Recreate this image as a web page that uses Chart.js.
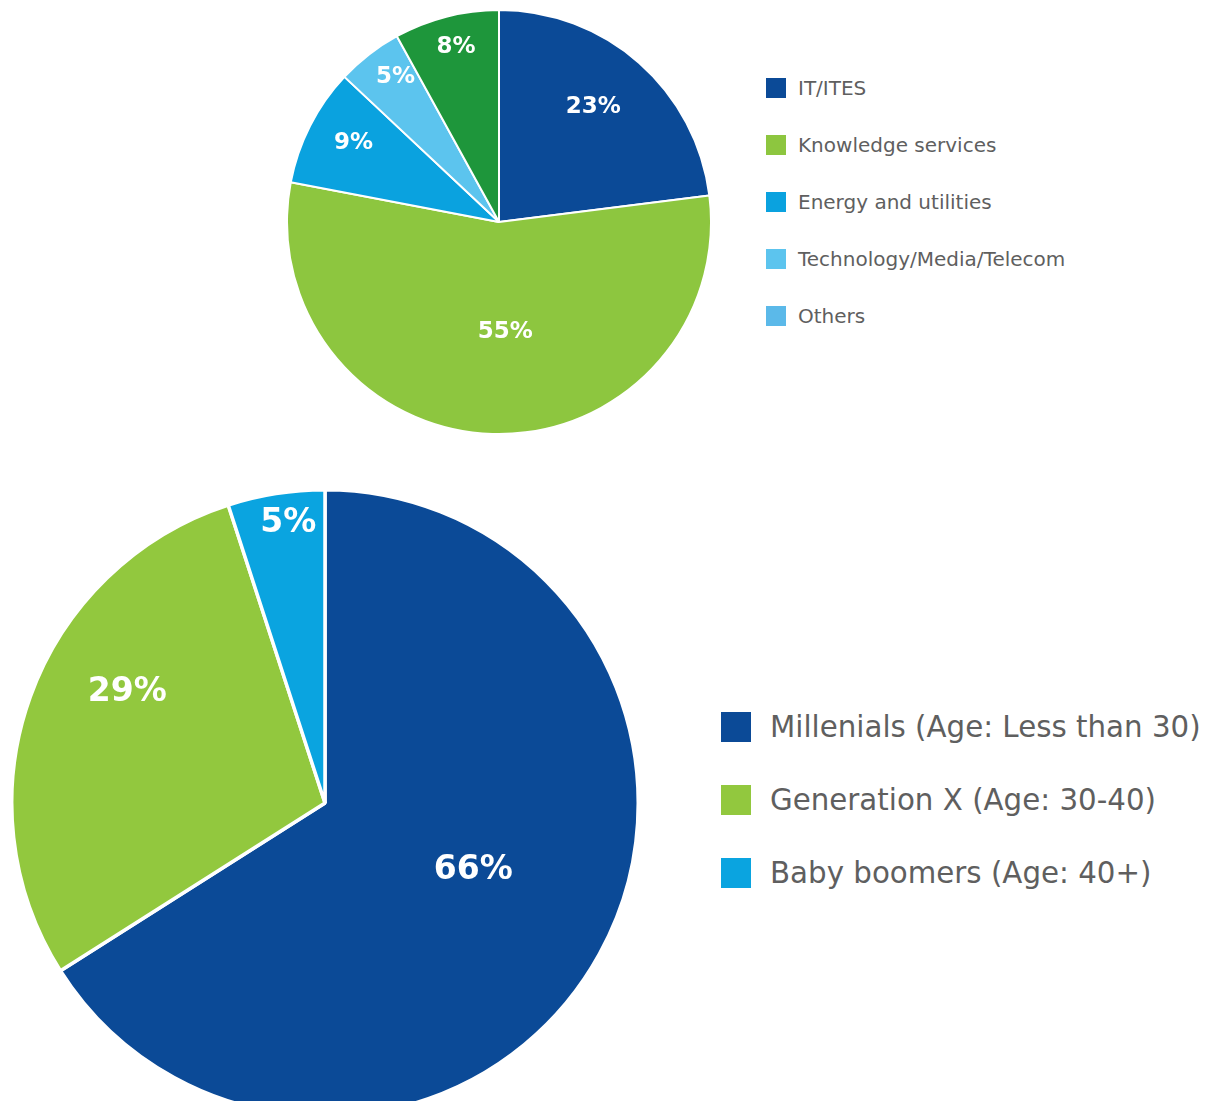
<!DOCTYPE html>
<html>
<head>
<meta charset="utf-8">
<script src="https://cdn.jsdelivr.net/npm/chart.js@4.4.1/dist/chart.umd.min.js"></script>
<style>
    html, body { margin: 0; padding: 0; background: #fff; overflow: hidden; }
    body { width: 1222px; height: 1101px; position: relative; font-family: 'DejaVu Sans', sans-serif; }
    .pie { position: absolute; }
    .legend { position: absolute; display: flex; flex-direction: column; color: #5f5f5f; }
    .legend .row { display: flex; align-items: center; white-space: nowrap; }
    .legend .sw { flex: none; }
    #sectorLegend { left: 766px; top: 78px; gap: 37px; font-size: 20px; }
    #sectorLegend .sw { width: 20px; height: 20px; margin-right: 12px; }
    #sectorLegend .row { height: 20px; }
    #ageLegend { left: 721px; top: 712px; gap: 43px; font-size: 29.3px; }
    #ageLegend .sw { width: 30px; height: 30px; margin-right: 19px; }
    #ageLegend .row { height: 30px; }
</style>
</head>
<body>
<div class="pie" style="left:286px; top:9px; width:426px; height:426px;"><canvas id="sectorChart"></canvas></div>
<div class="legend" id="sectorLegend"></div>
<div class="pie" style="left:10px; top:488px; width:630px; height:630px;"><canvas id="ageChart"></canvas></div>
<div class="legend" id="ageLegend"></div>

<script>
// sector split
const sectorLabels = ['IT/ITES', 'Knowledge services', 'Energy and utilities', 'Technology/Media/Telecom', 'Others'];
const sectorValues = [23, 55, 9, 5, 8];
const sectorColors = ['#0b4a97', '#8dc63f', '#0aa2df', '#5cc4ee', '#1e963b'];
const sectorLegendColors = ['#0b4a97', '#8dc63f', '#0aa2df', '#5cc4ee', '#5bb9e9'];

// age split
const ageLabels = ['Millenials (Age: Less than 30)', 'Generation X (Age: 30-40)', 'Baby boomers (Age: 40+)'];
const ageValues = [66, 29, 5];
const ageColors = ['#0b4a97', '#92c83e', '#0aa4e0'];

// writes "NN%" inside each slice; radius = fraction of outer radius, shift = degrees off the mid angle
const sliceLabels = {
    id: 'sliceLabels',
    afterDatasetsDraw(chart, args, opts) {
        const {ctx} = chart;
        const meta = chart.getDatasetMeta(0);
        const values = chart.data.datasets[0].data;
        ctx.save();
        ctx.fillStyle = '#fff';
        ctx.font = opts.font;
        ctx.textAlign = 'center';
        ctx.textBaseline = 'middle';
        meta.data.forEach((arc, i) => {
            const p = arc.getProps(['x', 'y', 'startAngle', 'endAngle', 'outerRadius'], true);
            const mid = (p.startAngle + p.endAngle) / 2 + (opts.shift[i] || 0) * Math.PI / 180;
            const r = p.outerRadius * opts.radius[i];
            ctx.fillText(values[i] + '%', p.x + Math.cos(mid) * r, p.y + Math.sin(mid) * r);
        });
        ctx.restore();
    }
};

function buildLegend(el, labels, colors) {
    el.innerHTML = labels.map((l, i) =>
        `<div class="row"><span class="sw" style="background:${colors[i]}"></span>${l}</div>`).join('');
}

function createPie(canvasId, labels, values, colors, border, labelOpts) {
    return new Chart(document.getElementById(canvasId), {
        type: 'pie',
        data: {
            labels: labels,
            datasets: [{
                data: values,
                backgroundColor: colors,
                borderColor: '#fff',
                borderWidth: border
            }]
        },
        options: {
            responsive: true,
            maintainAspectRatio: false,
            animation: false,
            layout: { padding: 0 },
            plugins: {
                legend: { display: false },
                tooltip: { enabled: false },
                sliceLabels: labelOpts
            }
        },
        plugins: [sliceLabels]
    });
}

createPie('sectorChart', sectorLabels, sectorValues, sectorColors, 2, {
    font: 'bold 23px "DejaVu Sans"',
    radius: [0.70, 0.52, 0.78, 0.84, 0.85],
    shift: [-2, -5, 1.4, 2.3, 0.6]
});
createPie('ageChart', ageLabels, ageValues, ageColors, 3.5, {
    font: 'bold 33px "DejaVu Sans"',
    radius: [0.52, 0.723, 0.90],
    shift: [-4.3, 9.4, 1.5]
});

buildLegend(document.getElementById('sectorLegend'), sectorLabels, sectorLegendColors);
buildLegend(document.getElementById('ageLegend'), ageLabels, ageColors);
</script>
</body>
</html>
